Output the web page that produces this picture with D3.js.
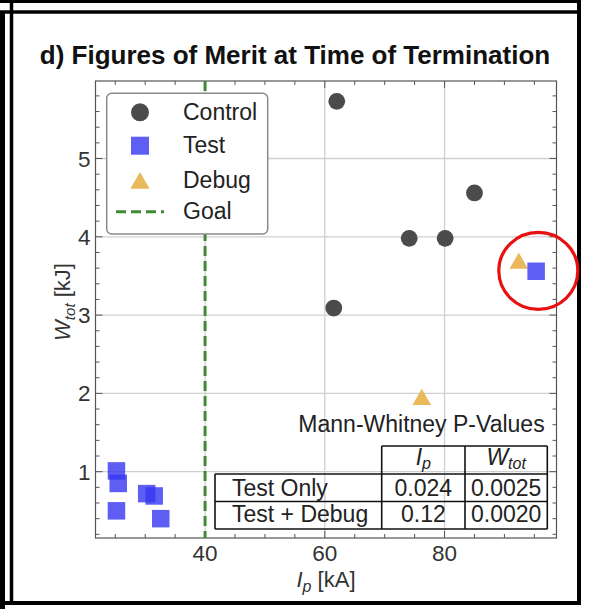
<!DOCTYPE html>
<html><head><meta charset="utf-8">
<script src="https://cdn.jsdelivr.net/npm/d3@7"></script>
<style>
html,body{margin:0;padding:0;background:#fff;}
svg{display:block;font-family:"Liberation Sans",Arial,Helvetica,sans-serif;}
</style></head>
<body>
<svg id="chart" width="594" height="609"></svg>
<script>
// ---- data ----
const controlIp = [62.0, 85.0, 74.1, 80.1, 61.5];
const controlW  = [5.73, 4.56, 3.98, 3.98, 3.09];
const testIp = [95.3, 25.2, 25.5, 25.2, 30.25, 31.5, 32.6];
const testW  = [3.56, 1.01, 0.85, 0.50, 0.72, 0.69, 0.40];
const debugIp = [92.4, 76.2];
const debugW  = [3.68, 1.94];
const goalIp = 40;
const xTicks = [40, 60, 80];
const yTicks = [1, 2, 3, 4, 5];
const legendLabels = ["Control", "Test", "Debug", "Goal"];
const tableRows = ["Test Only", "Test + Debug"];
const pIp = ["0.024", "0.12"];
const pW  = ["0.0025", "0.0020"];

const svg = d3.select("#chart");
const L = 95.5, R = 556.5, T = 81, B = 538;
const x = d3.scaleLinear().domain([21.7, 98.7]).range([L, R]);
const y = d3.scaleLinear().domain([0.153, 5.99]).range([B, T]);

const cControl = "#4b4b4b", cTest = "#3636f2", cDebug = "#e9b95c", cGoal = "#3f8a33";
const textCol = "#222";

// outer black borders
svg.append("rect").attr("x",0).attr("y",0).attr("width",581).attr("height",3).attr("fill","#000");
svg.append("rect").attr("x",0).attr("y",12).attr("width",5).attr("height",597).attr("fill","#000");
svg.append("line").attr("x1",0).attr("x2",581).attr("y1",12).attr("y2",12).attr("stroke","#000").attr("stroke-width",3.5);
svg.append("line").attr("x1",11.5).attr("x2",11.5).attr("y1",0).attr("y2",605).attr("stroke","#000").attr("stroke-width",3.5);
svg.append("line").attr("x1",579).attr("x2",579).attr("y1",0).attr("y2",605).attr("stroke","#000").attr("stroke-width",4);
svg.append("line").attr("x1",5).attr("x2",581).attr("y1",603).attr("y2",603).attr("stroke","#000").attr("stroke-width",4);

// title
svg.append("text").attr("x",295).attr("y",64).attr("text-anchor","middle")
  .attr("font-weight","bold").attr("font-size",26).attr("fill","#111")
  .text("d) Figures of Merit at Time of Termination");

// grid
const grid = svg.append("g").attr("stroke","#cfcfcf").attr("stroke-width",1.3);
grid.selectAll("line.gx").data(xTicks).join("line")
  .attr("x1",d=>x(d)).attr("x2",d=>x(d)).attr("y1",T).attr("y2",B);
grid.selectAll("line.gy").data(yTicks).join("line")
  .attr("x1",L).attr("x2",R).attr("y1",d=>y(d)).attr("y2",d=>y(d));

// frame ticks (inward) on all sides
const tickCol = "#555";
const xMinor = d3.range(25, 98, 5).filter(v => !xTicks.includes(v));
const yMinor = d3.range(0.2, 5.99, 0.2).map(v=>+v.toFixed(1)).filter(v => !yTicks.includes(v));
const tk = svg.append("g").attr("stroke",tickCol).attr("stroke-width",1);
function xt(vals, len){
  vals.forEach(v=>{
    tk.append("line").attr("x1",x(v)).attr("x2",x(v)).attr("y1",B).attr("y2",B-len);
    tk.append("line").attr("x1",x(v)).attr("x2",x(v)).attr("y1",T).attr("y2",T+len);
  });
}
function yt(vals, len){
  vals.forEach(v=>{
    tk.append("line").attr("y1",y(v)).attr("y2",y(v)).attr("x1",L).attr("x2",L+len);
    tk.append("line").attr("y1",y(v)).attr("y2",y(v)).attr("x1",R).attr("x2",R-len);
  });
}
xt(xTicks, 7); xt(xMinor, 4); yt(yTicks, 7); yt(yMinor, 4);

// frame
svg.append("rect").attr("x",L).attr("y",T).attr("width",R-L).attr("height",B-T)
  .attr("fill","none").attr("stroke","#555").attr("stroke-width",1.2);

// axis tick labels
svg.append("g").selectAll("text").data(xTicks).join("text")
  .attr("x",d=>x(d)).attr("y",B+23).attr("text-anchor","middle")
  .attr("font-size",22.5).attr("fill","#333").text(d=>d);
svg.append("g").selectAll("text").data(yTicks).join("text")
  .attr("x",L-5).attr("y",d=>y(d)+8).attr("text-anchor","end")
  .attr("font-size",22.5).attr("fill","#333").text(d=>d);

// axis labels
const xl = svg.append("text").attr("x",326).attr("y",587).attr("text-anchor","middle")
  .attr("font-size",22).attr("fill","#333");
xl.append("tspan").attr("font-style","italic").text("I");
xl.append("tspan").attr("font-style","italic").attr("font-size",16).attr("dy",5).text("p");
xl.append("tspan").attr("dy",-5).text(" [kA]");

const yl = svg.append("text").attr("transform","translate(70,302) rotate(-90)")
  .attr("text-anchor","middle").attr("font-size",22).attr("fill","#333");
yl.append("tspan").attr("font-style","italic").text("W");
yl.append("tspan").attr("font-style","italic").attr("font-size",15).attr("dy",5).text("tot");
yl.append("tspan").attr("dy",-5).text(" [kJ]");

// goal line
svg.append("line").attr("x1",x(goalIp)).attr("x2",x(goalIp)).attr("y1",T).attr("y2",B)
  .attr("stroke",cGoal).attr("stroke-width",3).attr("stroke-dasharray","10,5");

// table
const tb = svg.append("g");
const cx0 = 215, cx1 = 381.7, cx2 = 465, cx3 = 547.3;
const ry0 = 446, ry1 = 474, ry2 = 501.5, ry3 = 529;
function ln(x1,y1,x2,y2){ tb.append("line").attr("x1",x1).attr("y1",y1).attr("x2",x2).attr("y2",y2).attr("stroke","#111").attr("stroke-width",1.6); }
ln(cx1,ry0,cx3,ry0);
ln(cx0,ry1,cx3,ry1);
ln(cx0,ry2,cx3,ry2);
ln(cx0,ry3,cx3,ry3);
ln(cx0,ry1,cx0,ry3);
ln(cx1,ry0,cx1,ry3);
ln(cx2,ry0,cx2,ry3);
ln(cx3,ry0,cx3,ry3);
const fs = 23;
tb.append("text").attr("x",421.5).attr("y",432).attr("text-anchor","middle")
  .attr("font-size",fs).attr("fill",textCol).text("Mann-Whitney P-Values");
const h1 = tb.append("text").attr("x",(cx1+cx2)/2).attr("y",465).attr("text-anchor","middle").attr("font-size",fs).attr("fill",textCol).attr("font-style","italic");
h1.append("tspan").text("I"); h1.append("tspan").attr("font-size",16).attr("dy",4).text("p");
const h2 = tb.append("text").attr("x",(cx2+cx3)/2).attr("y",465).attr("text-anchor","middle").attr("font-size",fs).attr("fill",textCol).attr("font-style","italic");
h2.append("tspan").text("W"); h2.append("tspan").attr("font-size",16).attr("dy",4).text("tot");
const rowBase = [495.5, 522];
tableRows.forEach((r,i)=>{
  tb.append("text").attr("x",232).attr("y",rowBase[i]).attr("font-size",fs).attr("fill",textCol).text(r);
  tb.append("text").attr("x",(cx1+cx2)/2).attr("y",rowBase[i]).attr("text-anchor","middle").attr("font-size",fs).attr("fill",textCol).text(pIp[i]);
  tb.append("text").attr("x",(cx2+cx3)/2).attr("y",rowBase[i]).attr("text-anchor","middle").attr("font-size",fs).attr("fill",textCol).text(pW[i]);
});

// markers
const tri = d3.symbol().type(d3.symbolTriangle).size(150);
svg.append("g").selectAll("circle").data(controlIp).join("circle")
  .attr("cx",d=>x(d)).attr("cy",(d,i)=>y(controlW[i])).attr("r",8.4).attr("fill",cControl);
svg.append("g").selectAll("path").data(debugIp).join("path")
  .attr("d",tri).attr("transform",(d,i)=>`translate(${x(d)},${y(debugW[i])+1.5})`).attr("fill",cDebug);
const sq = 17.5;
svg.append("g").selectAll("rect").data(testIp).join("rect")
  .attr("x",d=>x(d)-sq/2).attr("y",(d,i)=>y(testW[i])-sq/2).attr("width",sq).attr("height",sq)
  .attr("fill",cTest).attr("fill-opacity",0.8);

// legend
const lg = svg.append("g");
lg.append("rect").attr("x",106.7).attr("y",93.3).attr("width",161).attr("height",140.7).attr("rx",5)
  .attr("fill","#fff").attr("stroke","#8a8a8a").attr("stroke-width",1.5);
const lmx = 140, ltx = 183;
const lRowY = [112.3, 145.7, 181.7, 211.7];
const lTxtY = [119.5, 152.5, 188, 219];
lg.append("circle").attr("cx",lmx).attr("cy",lRowY[0]).attr("r",9).attr("fill",cControl);
lg.append("rect").attr("x",lmx-9).attr("y",lRowY[1]-9).attr("width",18).attr("height",18).attr("fill",cTest).attr("fill-opacity",0.8);
lg.append("path").attr("d",d3.symbol().type(d3.symbolTriangle).size(160)).attr("transform",`translate(${lmx},${lRowY[2]+1.5})`).attr("fill",cDebug);
lg.append("line").attr("x1",lmx-24).attr("x2",lmx+24).attr("y1",lRowY[3]).attr("y2",lRowY[3])
  .attr("stroke",cGoal).attr("stroke-width",3).attr("stroke-dasharray","10,5");
lg.selectAll("text").data(legendLabels).join("text")
  .attr("x",ltx).attr("y",(d,i)=>lTxtY[i]).attr("font-size",23).attr("fill","#222").text(d=>d);

// red highlight circle
svg.append("ellipse").attr("cx",538.3).attr("cy",270.8).attr("rx",39.5).attr("ry",38.5)
  .attr("fill","none").attr("stroke","#e81010").attr("stroke-width",3.2);
</script>
</body></html>
